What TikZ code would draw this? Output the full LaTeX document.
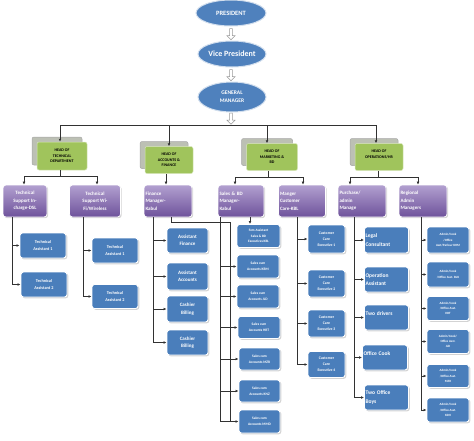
\documentclass[tikz,border=0pt]{standalone}
\usepackage{fontspec}
\setmainfont{Carlito}
\usetikzlibrary{shapes.geometric,shapes.arrows,shadows,arrows.meta}
\definecolor{ellblue}{RGB}{79,129,189}
\definecolor{boxblue}{RGB}{74,126,187}
\definecolor{headgreen}{RGB}{160,196,92}
\definecolor{headshadow}{RGB}{188,192,180}
\definecolor{purtop}{RGB}{178,160,208}
\definecolor{purbot}{RGB}{110,82,155}
\definecolor{linecol}{RGB}{50,50,50}
\tikzset{
  fs/.style 2 args={font=\bfseries\fontsize{#1}{#2}\selectfont},
  ell/.style={ellipse, fill=ellblue, draw=white!75!ellblue, line width=1pt, text=white, inner sep=0pt, align=center},
  hollow/.style={single arrow, draw=gray!80, fill=white, rotate=-90, minimum height=11pt, minimum width=8pt, single arrow head extend=1.8pt, inner sep=0.8pt, line width=0.5pt},
  headbox/.style={rectangle, rounded corners=2pt, fill=headgreen, draw=white!60!headgreen, line width=0.5pt, text=black, align=center, inner sep=1pt, fs={4}{5.6},
     general shadow={fill=headshadow, draw=gray!70, shadow xshift=-5pt, shadow yshift=5pt}},
  purbox/.style={rectangle, rounded corners=3pt, top color=purtop, bottom color=purbot, draw=white, line width=0.7pt, text=white, inner sep=1.5pt, fs={5}{7.5},
     drop shadow={shadow xshift=1.2pt, shadow yshift=-1.2pt, opacity=0.35}},
  bbox/.style={rectangle, rounded corners=2.5pt, fill=boxblue, draw=white, line width=0.9pt, text=white, align=center, inner sep=1pt,
     drop shadow={shadow xshift=1.3pt, shadow yshift=-1.3pt, opacity=0.35}},
  line/.style={draw=linecol, line width=0.7pt},
  arr/.style={line, -{Latex[length=3pt,width=2.8pt]}},
}
\begin{document}
\begin{tikzpicture}[x=1pt,y=-1pt]
\useasboundingbox (0,0) rectangle (474,440);
% ---- top ellipses
\node[ell, minimum width=70pt, minimum height=26pt, fs={6.5}{8}] (pres) at (231,13) {PRESIDENT};
\node[ell, minimum width=68pt, minimum height=26pt, fs={8}{9}] (vp) at (232,54) {Vice President};
\node[ell, minimum width=68pt, minimum height=30pt, fs={5.5}{8}] (gm) at (232,97) {GENERAL\\MANAGER};
\node[hollow] (ha1) at (231,33.5) {};
\node[hollow] (ha2) at (231,74.5) {};
\node[hollow] (ha3) at (231,118) {};
\coordinate (topbar) at (232,125);
% ---- heads
\node[headbox, minimum width=50pt, minimum height=28pt] (htech) at (62,156) {HEAD OF\\TECHNICAL\\DEPARTMENT};
\node[headbox, minimum width=48pt, minimum height=27pt] (hacc) at (169,160) {HEAD OF\\ACCOUNTS \&\\FINANCE};
\node[headbox, minimum width=51pt, minimum height=27pt] (hmkt) at (272,157) {HEAD OF\\MARKETING \&\\BD};
\node[headbox, minimum width=48pt, minimum height=27pt] (hops) at (379,157) {HEAD OF\\OPERATIONS/HR\\ \mbox{}};
\draw[line] ([xshift=-2pt]htech.north |- topbar) -- ([xshift=-3pt]hops.north |- topbar);
\draw[arr] ([xshift=-2pt]htech.north |- topbar) -- ([xshift=-2pt]htech.north);
\draw[arr] (hacc.north |- topbar) -- (hacc.north);
\draw[arr] ([xshift=-5pt]hmkt.north |- topbar) -- ([xshift=-5pt]hmkt.north);
\draw[arr] ([xshift=-3pt]hops.north |- topbar) -- ([xshift=-3pt]hops.north);
% ---- level 3 (purple)
\node[purbox, minimum width=44pt, minimum height=32pt, align=center] (tdsl) at (25,201) {Technical\\Support In-\\charge-DSL};
\node[purbox, minimum width=51pt, minimum height=32pt, align=center] (twifi) at (95,201) {Technical\\Support Wi-\\Fi/Wireless};
\node[purbox, text width=45pt, minimum height=32pt, align=left] (fin) at (168,201) {Finance\\Manager-\\Kabul};
\node[purbox, text width=43pt, minimum height=32pt, align=left] (sales) at (241,201) {Sales \& BD\\Manager-\\Kabul};
\node[purbox, text width=44pt, minimum height=32pt, align=left] (cc) at (302,201) {Manger\\Customer\\Care-KBL};
\node[purbox, text width=45pt, minimum height=32pt, align=left] (purch) at (362,201) {Purchase/\\admin\\Manage};
\node[purbox, text width=45pt, minimum height=32pt, align=left] (reg) at (423,201) {Regional\\Admin\\Managers};
% head -> level 3
\coordinate (tj) at (62,176.5);
\draw[line] ([xshift=-2pt]htech.south) -- ([xshift=-2pt]htech.south |- tj);
\draw[arr] ([xshift=-2pt]htech.south |- tj) -| ([xshift=-1pt]tdsl.north);
\draw[arr] ([xshift=-2pt]htech.south |- tj) -| ([xshift=2pt]twifi.north);
\draw[arr] ([xshift=-3pt]hacc.south) -- ([xshift=-2pt]fin.north);
\coordinate (mj) at (268,177);
\draw[line] ([xshift=-4pt]hmkt.south) -- ([xshift=-4pt]hmkt.south |- mj);
\draw[arr] ([xshift=-4pt]hmkt.south |- mj) -| ([xshift=-6pt]sales.north);
\draw[arr] ([xshift=-4pt]hmkt.south |- mj) -| ([xshift=1pt]cc.north);
\coordinate (oj) at (378,177);
\draw[line] ([xshift=-1pt]hops.south) -- ([xshift=-1pt]hops.south |- oj);
\draw[arr] ([xshift=-1pt]hops.south |- oj) -| ([xshift=-12pt]purch.north);
\draw[arr] ([xshift=-1pt]hops.south |- oj) -| ([xshift=-5pt]reg.north);
% ---- technical assistants
\node[bbox, minimum width=46pt, minimum height=25pt, fs={4.3}{6.5}] (ta1a) at (43,245.5) {Technical\\Assistant 1};
\node[bbox, minimum width=46pt, minimum height=25pt, fs={4.3}{6.5}] (ta2a) at (44,284.5) {Technical\\Assistant 2};
\node[bbox, minimum width=46pt, minimum height=25pt, fs={4.3}{6.5}] (ta1b) at (115,250.5) {Technical\\Assistant 1};
\node[bbox, minimum width=46pt, minimum height=24pt, fs={4.3}{6.5}] (ta2b) at (115,296.5) {Technical\\Assistant 2};
\draw[arr] ([xshift=-13pt]tdsl.south) |- (ta1a.west);
\draw[arr] ([xshift=-13pt]tdsl.south) |- (ta2a.west);
\draw[arr] ([xshift=-12pt]twifi.south) |- (ta1b.west);
\draw[arr] ([xshift=-12pt]twifi.south) |- (ta2b.west);
% ---- finance
\node[bbox, minimum width=41pt, minimum height=25pt, fs={5}{7.5}] (af) at (187.5,240.5) {Assistant\\Finance};
\node[bbox, minimum width=41pt, minimum height=27pt, fs={5}{7.5}] (aa) at (187.5,276.5) {Assistant\\Accounts};
\node[bbox, minimum width=41pt, minimum height=26pt, fs={5}{7.5}] (cb1) at (187.5,309) {Cashier\\Billing};
\node[bbox, minimum width=41pt, minimum height=25pt, fs={5}{7.5}] (cb2) at (187.5,342.5) {Cashier\\Billing};
\draw[arr] ([xshift=-15pt]fin.south) |- (af.west);
\draw[arr] ([xshift=-15pt]fin.south) |- (aa.west);
\draw[arr] ([xshift=-15pt]fin.south) |- (cb1.west);
\draw[arr] ([xshift=-15pt]fin.south) |- (cb2.west);
% ---- sales
\node[bbox, minimum width=43pt, minimum height=23pt, fs={3.4}{5.6}] (fem) at (258.5,236) {Fem Assistant\\Sales \& BD\\Executives KBL};
\node[bbox, minimum width=42pt, minimum height=23pt, fs={3.6}{6}] (s1) at (258,266.5) {Sales cum\\Accounts KBM};
\node[bbox, minimum width=42pt, minimum height=23pt, fs={3.6}{6}] (s2) at (258,296.5) {Sales cum\\Accounts JLD};
\node[bbox, minimum width=42pt, minimum height=22pt, fs={3.6}{6}] (s3) at (259,327.5) {Sales cum\\Accounts HRT};
\node[bbox, minimum width=41pt, minimum height=22pt, fs={3.6}{6}] (s4) at (259.5,359) {Sales cum\\Accounts MZR};
\node[bbox, minimum width=41pt, minimum height=22pt, fs={3.6}{6}] (s5) at (259.5,391) {Sales cum\\Accounts KNZ};
\node[bbox, minimum width=41pt, minimum height=23pt, fs={3.6}{6}] (s6) at (259.5,421.5) {Sales cum\\Accounts MMD};
\draw[arr] ([xshift=9pt]sales.south) -- ([xshift=-8.5pt]fem.north);
\coordinate (fbus) at (230,222);
\draw[line] ([xshift=3pt]fin.south) |- (fbus) -- (fbus |- s6.west);
\foreach \s in {s1,s2,s3,s4,s5,s6} {\draw[arr] ([xshift=-21pt]sales.south) |- (\s.west);}
% ---- customer care
\node[bbox, minimum width=37pt, minimum height=28pt, fs={3.8}{6}] (cc1) at (326.5,239) {Customer\\Care\\Executive 1};
\node[bbox, minimum width=37pt, minimum height=27pt, fs={3.8}{6}] (cc2) at (326.5,283.5) {Customer\\Care\\Executive 2};
\node[bbox, minimum width=37pt, minimum height=27pt, fs={3.8}{6}] (cc3) at (326.5,323.5) {Customer\\Care\\Executive 3};
\node[bbox, minimum width=37pt, minimum height=26pt, fs={3.8}{6}] (cc4) at (326.5,364.5) {Customer\\Care\\Executive 4};
\foreach \c in {cc1,cc2,cc3,cc4} {\draw[arr] ([xshift=-5pt]cc.south) |- (\c.west);}
% ---- purchase/admin
\node[bbox, text width=42pt, minimum height=26pt, align=left, fs={5.5}{8.5}] (legal) at (386.5,240) {Legal\\Consultant};
\node[bbox, text width=42pt, minimum height=25pt, align=left, fs={5.5}{8.5}] (opas) at (386.5,279.5) {Operation\\Assistant};
\node[bbox, text width=42pt, minimum height=25pt, align=left, fs={5.5}{8.5}] (drivers) at (386.5,317.5) {Two drivers\\ \mbox{}};
\node[bbox, text width=43pt, minimum height=25pt, align=left, fs={5.5}{8.5}] (cook) at (385,357.5) {Office Cook\\ \mbox{}};
\node[bbox, text width=42pt, minimum height=25pt, align=left, fs={5.5}{8.5}] (boys) at (386.5,397.5) {Two Office\\Boys};
\foreach \p in {legal,opas,drivers,cook,boys} {\draw[arr] ([xshift=-8pt]purch.south) |- (\p.west);}
% ---- regional admin
\node[bbox, minimum width=42pt, minimum height=26pt, fs={3.2}{5.2}] (ad1) at (448,240) {Admin/Cook\\/Office\\Asst/Parlour KHM};
\node[bbox, minimum width=42pt, minimum height=25pt, fs={3.2}{5.2}] (ad2) at (448,274.5) {Admin/Cook\\/Office Asst. BLK};
\node[bbox, minimum width=42pt, minimum height=24pt, fs={3.2}{5.2}] (ad3) at (448,308.5) {Admin/Cook\\/Office Asst.\\HRT};
\node[bbox, minimum width=42pt, minimum height=24pt, fs={3.2}{5.2}] (ad4) at (448,341.5) {Admin/Cook/\\Office Asst.\\JLD};
\node[bbox, minimum width=42pt, minimum height=23pt, fs={3.2}{5.2}] (ad5) at (448,376) {Admin/Cook\\/Office Asst.\\MZR};
\node[bbox, minimum width=42pt, minimum height=24pt, fs={3.2}{5.2}] (ad6) at (448,410) {Admin/Cook\\/Office Asst.\\KDH};
\foreach \a in {ad1,ad2,ad3,ad4,ad5,ad6} {\draw[arr] ([xshift=-2pt]reg.south) |- (\a.west);}
\end{tikzpicture}
\end{document}
